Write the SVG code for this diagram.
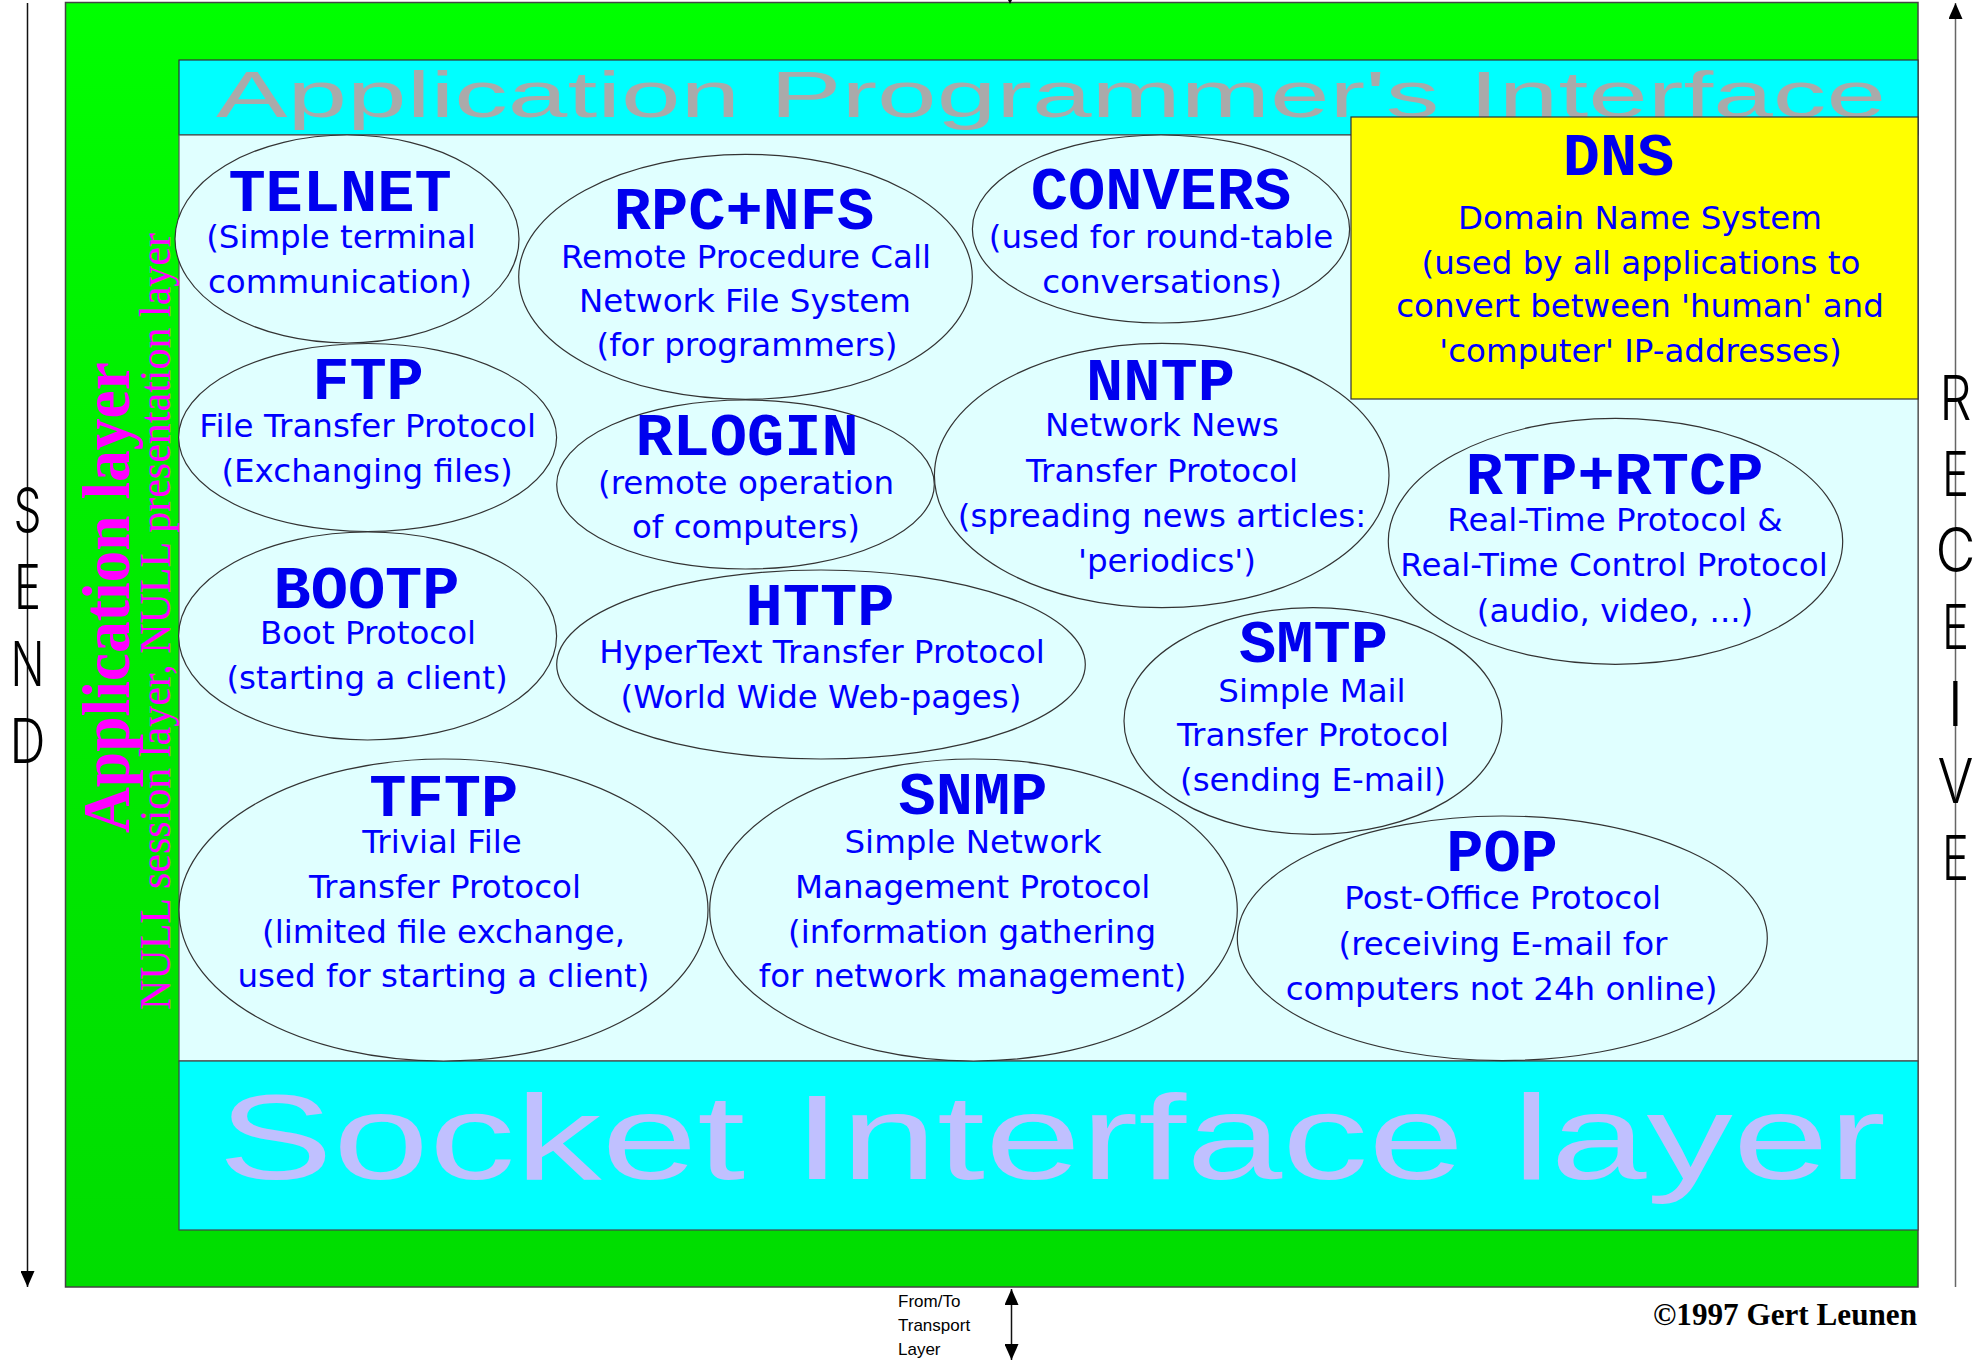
<svg xmlns="http://www.w3.org/2000/svg" width="1981" height="1361" viewBox="0 0 1981 1361">
<defs>
<linearGradient id="green" x1="0" y1="0" x2="0" y2="1">
<stop offset="0" stop-color="#00FF00"/>
<stop offset="0.35" stop-color="#00EE00"/>
<stop offset="1" stop-color="#00DD00"/>
</linearGradient>
<marker id="ah" viewBox="0 0 16 14" refX="16" refY="7" markerWidth="16" markerHeight="14" markerUnits="userSpaceOnUse" orient="auto-start-reverse">
<path d="M0,0 L16,7 L0,14 Z" fill="#000"/>
</marker>
<style>
.node ellipse{fill:#E0FFFF;stroke:#333;stroke-width:1.2}
.h{font-family:"Liberation Mono","Courier New",monospace;font-weight:bold;font-size:62px;fill:#0000EE;text-anchor:middle}
.b{font-family:"DejaVu Sans","Liberation Sans",sans-serif;font-size:32.5px;fill:#0000FF;text-anchor:middle}
.big{font-family:"Liberation Sans",Arial,sans-serif}
.side{font-family:"Liberation Serif","Times New Roman",serif;fill:#FF00FF}
.lt{font-family:Inter,"Open Sans","DejaVu Sans",sans-serif;font-weight:300;font-size:62px;fill:#000;text-anchor:middle}
.small{font-family:"Liberation Sans",Arial,sans-serif;font-size:17px;fill:#000}
</style>
</defs>
<rect width="1981" height="1361" fill="#fff"/>

<g id="frame">
<rect x="65.5" y="2.5" width="1852.5" height="1284.5" fill="url(#green)" stroke="#444" stroke-width="1.5"/>
<rect x="179" y="60" width="1739" height="75" fill="#00FFFF" stroke="#333" stroke-width="1.2"/>
<text class="big" x="216" y="117" font-size="64" fill="#AAAAAA" textLength="1670" lengthAdjust="spacingAndGlyphs">Application Programmer's Interface</text>
<rect x="179" y="135" width="1739" height="926" fill="#E0FFFF" stroke="#555" stroke-width="1.2"/>
<rect x="179" y="1061" width="1739" height="169" fill="#00FFFF" stroke="#444" stroke-width="1.2"/>
<text class="big" x="218" y="1179" font-size="121" fill="#C0C0FF" textLength="1668" lengthAdjust="spacingAndGlyphs">Socket Interface layer</text>
<text class="side" transform="translate(128.5,833) rotate(-90)" font-size="67" font-weight="bold" textLength="471" lengthAdjust="spacingAndGlyphs">Application layer</text>
<text class="side" transform="translate(170,1010) rotate(-90)" font-size="44" textLength="777" lengthAdjust="spacingAndGlyphs">NULL session layer, NULL presentation layer</text>
</g>

<g id="dns">
<rect x="1351" y="117" width="567" height="282" fill="#FFFF00" stroke="#333" stroke-width="1.2"/>
<text class="h" x="1618.5" y="175">DNS</text>
<text class="b" x="1640" y="229">Domain Name System</text>
<text class="b" x="1641" y="274">(used by all applications to</text>
<text class="b" x="1640" y="317">convert between 'human' and</text>
<text class="b" x="1640.5" y="362">'computer' IP-addresses)</text>
</g>

<g id="telnet" class="node">
<ellipse cx="347" cy="239" rx="172" ry="104"/>
<text class="h" x="340" y="211">TELNET</text>
<text class="b" x="341" y="248">(Simple terminal</text>
<text class="b" x="340" y="293">communication)</text>
</g>

<g id="ftp" class="node">
<ellipse cx="367.6" cy="437.5" rx="189" ry="94"/>
<text class="h" x="368" y="399">FTP</text>
<text class="b" x="367.6" y="437">File Transfer Protocol</text>
<text class="b" x="367" y="482">(Exchanging files)</text>
</g>

<g id="bootp" class="node">
<ellipse cx="367.6" cy="636" rx="189" ry="104"/>
<text class="h" x="366.5" y="608">BOOTP</text>
<text class="b" x="368" y="644">Boot Protocol</text>
<text class="b" x="367" y="689">(starting a client)</text>
</g>

<g id="tftp" class="node">
<ellipse cx="443.5" cy="910" rx="264.5" ry="151"/>
<text class="h" x="443.7" y="816">TFTP</text>
<text class="b" x="442" y="853">Trivial File</text>
<text class="b" x="445" y="898">Transfer Protocol</text>
<text class="b" x="443.5" y="943">(limited file exchange,</text>
<text class="b" x="443.5" y="987">used for starting a client)</text>
</g>

<g id="rpcnfs" class="node">
<ellipse cx="745.5" cy="276.8" rx="226.8" ry="122.5"/>
<text class="h" x="744" y="229">RPC+NFS</text>
<text class="b" x="746" y="268">Remote Procedure Call</text>
<text class="b" x="745" y="312">Network File System</text>
<text class="b" x="747" y="356">(for programmers)</text>
</g>

<g id="rlogin" class="node">
<ellipse cx="745.5" cy="484.5" rx="188.8" ry="84.5"/>
<text class="h" x="747" y="455">RLOGIN</text>
<text class="b" x="746" y="494">(remote operation</text>
<text class="b" x="746" y="538">of computers)</text>
</g>

<g id="http" class="node">
<ellipse cx="821" cy="664.5" rx="264.3" ry="94.5"/>
<text class="h" x="820" y="625">HTTP</text>
<text class="b" x="822" y="663">HyperText Transfer Protocol</text>
<text class="b" x="821" y="708">(World Wide Web-pages)</text>
</g>

<g id="snmp" class="node">
<ellipse cx="973.5" cy="910" rx="263.8" ry="151"/>
<text class="h" x="973" y="814">SNMP</text>
<text class="b" x="973" y="853">Simple Network</text>
<text class="b" x="972.7" y="898">Management Protocol</text>
<text class="b" x="972" y="943">(information gathering</text>
<text class="b" x="972.6" y="987">for network management)</text>
</g>

<g id="convers" class="node">
<ellipse cx="1161" cy="229" rx="188.6" ry="94"/>
<text class="h" x="1161" y="209">CONVERS</text>
<text class="b" x="1161" y="248">(used for round-table</text>
<text class="b" x="1162" y="293">conversations)</text>
</g>

<g id="nntp" class="node">
<ellipse cx="1161.7" cy="475.5" rx="227.3" ry="132.2"/>
<text class="h" x="1160.5" y="400">NNTP</text>
<text class="b" x="1162" y="436">Network News</text>
<text class="b" x="1162" y="482">Transfer Protocol</text>
<text class="b" x="1162" y="527">(spreading news articles:</text>
<text class="b" x="1167" y="572">'periodics')</text>
</g>

<g id="rtp" class="node">
<ellipse cx="1615.5" cy="541.3" rx="227.2" ry="123"/>
<text class="h" x="1614.6" y="494">RTP+RTCP</text>
<text class="b" x="1615" y="531">Real-Time Protocol &amp;</text>
<text class="b" x="1614" y="576">Real-Time Control Protocol</text>
<text class="b" x="1615" y="622">(audio, video, ...)</text>
</g>

<g id="smtp" class="node">
<ellipse cx="1313" cy="721" rx="189" ry="113.3"/>
<text class="h" x="1313.5" y="662">SMTP</text>
<text class="b" x="1312" y="702">Simple Mail</text>
<text class="b" x="1313" y="746">Transfer Protocol</text>
<text class="b" x="1313" y="791">(sending E-mail)</text>
</g>

<g id="pop" class="node">
<ellipse cx="1502.3" cy="938.3" rx="265" ry="122.3"/>
<text class="h" x="1502" y="871">POP</text>
<text class="b" x="1502.7" y="909">Post-Office Protocol</text>
<text class="b" x="1503" y="955">(receiving E-mail for</text>
<text class="b" x="1501.5" y="1000">computers not 24h online)</text>
</g>

<g id="connectors">
<line x1="27.5" y1="3" x2="27.5" y2="1287" stroke="#111" stroke-width="1.5" marker-end="url(#ah)"/>
<line x1="1955.5" y1="1287" x2="1955.5" y2="3" stroke="#666" stroke-width="1.5" marker-end="url(#ah)"/>
<line x1="1011.5" y1="1289" x2="1011.5" y2="1360" stroke="#111" stroke-width="1.5" marker-start="url(#ah)" marker-end="url(#ah)"/>
<polygon points="1003,-10 1017,-10 1010,4" fill="#000"/>
</g>

<g id="send">
<text class="lt" x="27.5" y="532" textLength="28" lengthAdjust="spacingAndGlyphs">S</text>
<text class="lt" x="27.5" y="609" textLength="27" lengthAdjust="spacingAndGlyphs">E</text>
<text class="lt" x="27.5" y="686" textLength="34" lengthAdjust="spacingAndGlyphs">N</text>
<text class="lt" x="27.5" y="763" textLength="36" lengthAdjust="spacingAndGlyphs">D</text>
</g>

<g id="receive">
<text class="lt" x="1955.5" y="420" textLength="32" lengthAdjust="spacingAndGlyphs">R</text>
<text class="lt" x="1955.5" y="496" textLength="27" lengthAdjust="spacingAndGlyphs">E</text>
<text class="lt" x="1955.5" y="572" textLength="40" lengthAdjust="spacingAndGlyphs">C</text>
<text class="lt" x="1955.5" y="649" textLength="27" lengthAdjust="spacingAndGlyphs">E</text>
<text class="lt" x="1955.5" y="726">I</text>
<text class="lt" x="1955.5" y="803" textLength="36" lengthAdjust="spacingAndGlyphs">V</text>
<text class="lt" x="1955.5" y="880" textLength="27" lengthAdjust="spacingAndGlyphs">E</text>
</g>

<g id="transport-label">
<text class="small" x="898" y="1307">From/To</text>
<text class="small" x="898" y="1331">Transport</text>
<text class="small" x="898" y="1355">Layer</text>
</g>

<g id="copyright">
<text x="1653" y="1325" font-family="'Liberation Serif','Times New Roman',serif" font-weight="bold" font-size="32" fill="#000" textLength="264" lengthAdjust="spacingAndGlyphs">©1997 Gert Leunen</text>
</g>
</svg>
